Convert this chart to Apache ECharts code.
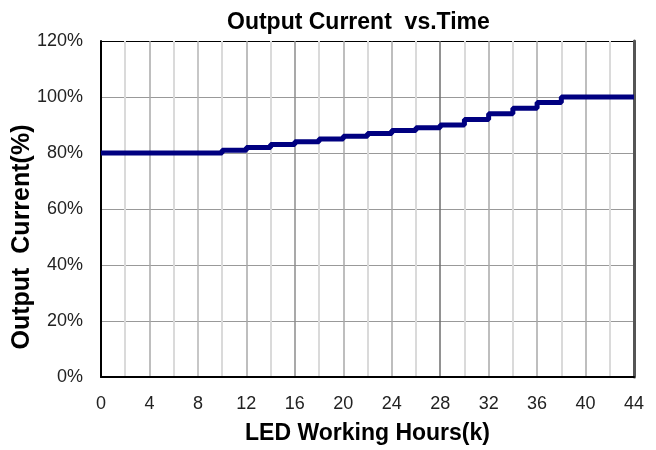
<!DOCTYPE html>
<html>
<head>
<meta charset="utf-8">
<title>Output Current vs.Time</title>
<script src="https://cdn.jsdelivr.net/npm/echarts@6/dist/echarts.min.js"></script>
<style>
  html, body { margin: 0; padding: 0; background: #fff; }
  #chart { width: 656px; height: 450px; }
</style>
</head>
<body>
<div id="chart"></div>
<script>
// step points: hours (k) where the level starts, and output current (%)
const stepHours = [0, 10, 12, 14, 16, 18, 20, 22, 24, 26, 28, 30, 32, 34, 36, 38, 44];
const outputPct = [80, 81, 82, 83, 84, 85, 86, 87, 88, 89, 90, 92, 94, 96, 98, 100, 100];
const xTicks = [0, 4, 8, 12, 16, 20, 24, 28, 32, 36, 40, 44];
const yTicks = [0, 20, 40, 60, 80, 100, 120];

const font = "'Liberation Sans', Arial, sans-serif";
const chart = echarts.init(document.getElementById("chart"), null, { renderer: "canvas" });

// per-line colours of the major vertical grid lines (0..44)
const xGridColors = ["#000", "#a8a8a8", "#b4b4b4", "#a8a8a8", "#8c8c8c", "#a8a8a8",
  "#a8a8a8", "#6e6e6e", "#a8a8a8", "#a8a8a8", "#a8a8a8", "#555"];

const option = {
  animation: false,
  title: {
    text: "Output Current  vs.Time",
    left: 222,
    top: 6,
    textStyle: { fontFamily: font, fontSize: 23, fontWeight: "bold", color: "#000" }
  },
  grid: { left: 101, right: 22, top: 41, bottom: 72 },
  xAxis: {
    type: "value",
    min: xTicks[0],
    max: xTicks[xTicks.length - 1],
    interval: 4,
    name: "LED Working Hours(k)",
    nameLocation: "middle",
    nameGap: 45,
    nameTextStyle: { fontFamily: font, fontSize: 23, fontWeight: "bold", color: "#000" },
    axisLine: { show: true, lineStyle: { color: "#000", width: 2 } },
    axisTick: { show: false },
    axisLabel: { margin: 18, fontFamily: font, fontSize: 18, color: "#222" },
    splitLine: { show: true, lineStyle: { color: xGridColors, width: 1.5 } },
    minorTick: { show: false, splitNumber: 2 },
    minorSplitLine: { show: true, lineStyle: { color: "#dadada", width: 2 } }
  },
  yAxis: [
    {
      type: "value",
      min: yTicks[0],
      max: yTicks[yTicks.length - 1],
      interval: 20,
      axisLine: { show: true, lineStyle: { color: "#000", width: 2 } },
      axisTick: { show: false },
      axisLabel: { margin: 18, fontFamily: font, fontSize: 18, color: "#222", formatter: "{value}%" },
      splitLine: {
        show: true,
        lineStyle: { color: ["#000", "#999", "#999", "#999", "#999", "#999", "#000"], width: 1 }
      }
    },
    {
      type: "value",
      position: "right",
      min: yTicks[0],
      max: yTicks[yTicks.length - 1],
      interval: 20,
      axisLine: { show: true, lineStyle: { color: "#555", width: 3 } },
      axisTick: { show: false },
      axisLabel: { show: false },
      splitLine: { show: false }
    }
  ],
  graphic: [
    {
      type: "text",
      x: 22,
      y: 237,
      rotation: Math.PI / 2,
      style: {
        text: "Output  Current(%)",
        font: "bold 25px " + font,
        fill: "#000",
        align: "center",
        verticalAlign: "middle"
      }
    }
  ],
  series: [
    {
      type: "line",
      step: "end",
      yAxisIndex: 0,
      showSymbol: false,
      lineStyle: { color: "#000080", width: 5 },
      data: stepHours.map((h, i) => [h, outputPct[i]])
    }
  ]
};

chart.setOption(option);
</script>
</body>
</html>
